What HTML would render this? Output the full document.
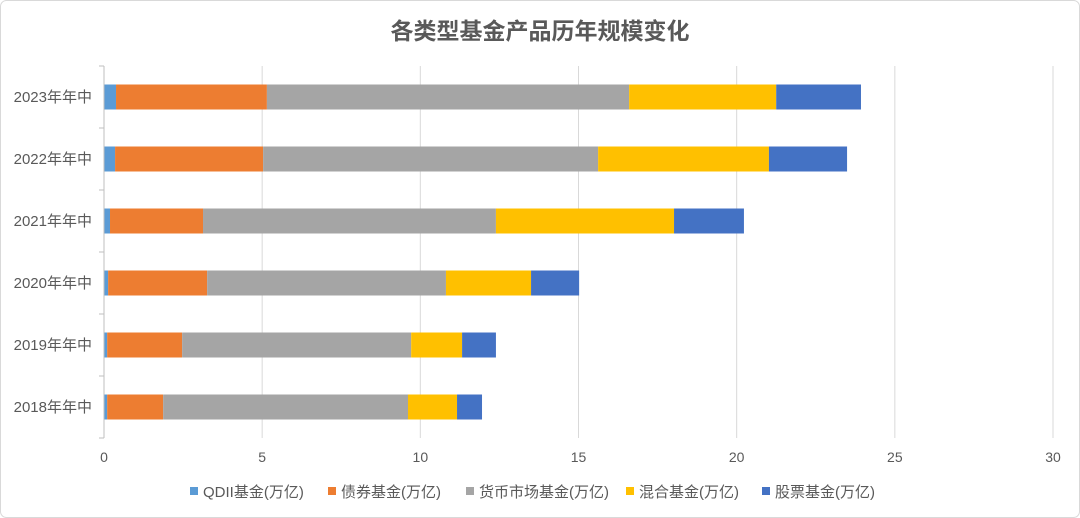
<!DOCTYPE html>
<html><head><meta charset="utf-8"><style>
html,body{margin:0;padding:0;background:#fff;}
svg{display:block;font-family:"Liberation Sans","Noto Sans CJK SC",sans-serif;}
</style></head><body>
<svg id="chart" width="1080" height="518">
<rect x="0.5" y="0.5" width="1079" height="517" rx="6" fill="#fff" stroke="#d9d9d9"/>
<text x="540" y="39" text-anchor="middle" font-size="23" font-weight="bold" fill="#595959">各类型基金产品历年规模变化</text>
<g id="grid"></g><g id="bars"></g><g id="axes"></g><g id="legend"></g>
</svg>
<script>
const categories=["2023年年中","2022年年中","2021年年中","2020年年中","2019年年中","2018年年中"];
const seriesNames=["QDII基金(万亿)","债券基金(万亿)","货币市场基金(万亿)","混合基金(万亿)","股票基金(万亿)"];
const qdii=[0.38,0.35,0.19,0.13,0.10,0.10];
const bond=[4.77,4.68,2.94,3.13,2.37,1.77];
const money=[11.45,10.59,9.26,7.55,7.24,7.74];
const mixed=[4.65,5.40,5.63,2.69,1.61,1.55];
const stock=[2.68,2.47,2.21,1.52,1.07,0.79];
const xTicks=[0,5,10,15,20,25,30];
const colors=["#5b9bd5","#ed7d31","#a5a5a5","#ffc000","#4472c4"];
const series=[qdii,bond,money,mixed,stock];
const NS="http://www.w3.org/2000/svg";
const L=104,R=1053,T=66,B=438,xMax=30;
const xs=v=>L+v/xMax*(R-L);
const band=(B-T)/categories.length;
const yc=i=>T+band*(i+0.5);
function mk(tag,attrs,parent){const e=document.createElementNS(NS,tag);for(const k in attrs)e.setAttribute(k,attrs[k]);parent.appendChild(e);return e;}
const grid=document.getElementById('grid'),bars=document.getElementById('bars'),axes=document.getElementById('axes'),legend=document.getElementById('legend');
xTicks.forEach(t=>{
 if(t>0){const g=mk('line',{x1:xs(t),x2:xs(t),y1:T,y2:B,stroke:'#d9d9d9','stroke-width':1},grid);
 
 }
 const tx=mk('text',{x:xs(t),y:B+24,'text-anchor':'middle','font-size':14,fill:'#595959'},axes);
 tx.textContent=t;
 
 
});
const ax=mk('line',{x1:L,x2:L,y1:T,y2:B,stroke:'#bfbfbf'},axes);


for(let i=0;i<=categories.length;i++){const tk=mk('line',{x1:L-5,x2:L,y1:T+band*i,y2:T+band*i,stroke:'#bfbfbf'},axes);
 
 }
categories.forEach((c,i)=>{
 const t=mk('text',{x:L-12,y:yc(i)+5,'text-anchor':'end','font-size':15,fill:'#595959'},axes);
 t.textContent=c;
 
 
 let acc=0;
 series.forEach((s,k)=>{
  const r=mk('rect',{x:xs(acc),y:yc(i)-12.5,width:xs(acc+s[i])-xs(acc),height:25,fill:colors[k]},bars);
  
  
  acc+=s[i];
 });
});
const lx=[190,328,466,626,762];
seriesNames.forEach((n,k)=>{
 const r=mk('rect',{x:lx[k],y:487,width:8,height:8,fill:colors[k]},legend);
 
 
 const t=mk('text',{x:lx[k]+13,y:497,'font-size':15,fill:'#595959'},legend);
 t.textContent=n;
 
 
});
</script>
</body></html>
